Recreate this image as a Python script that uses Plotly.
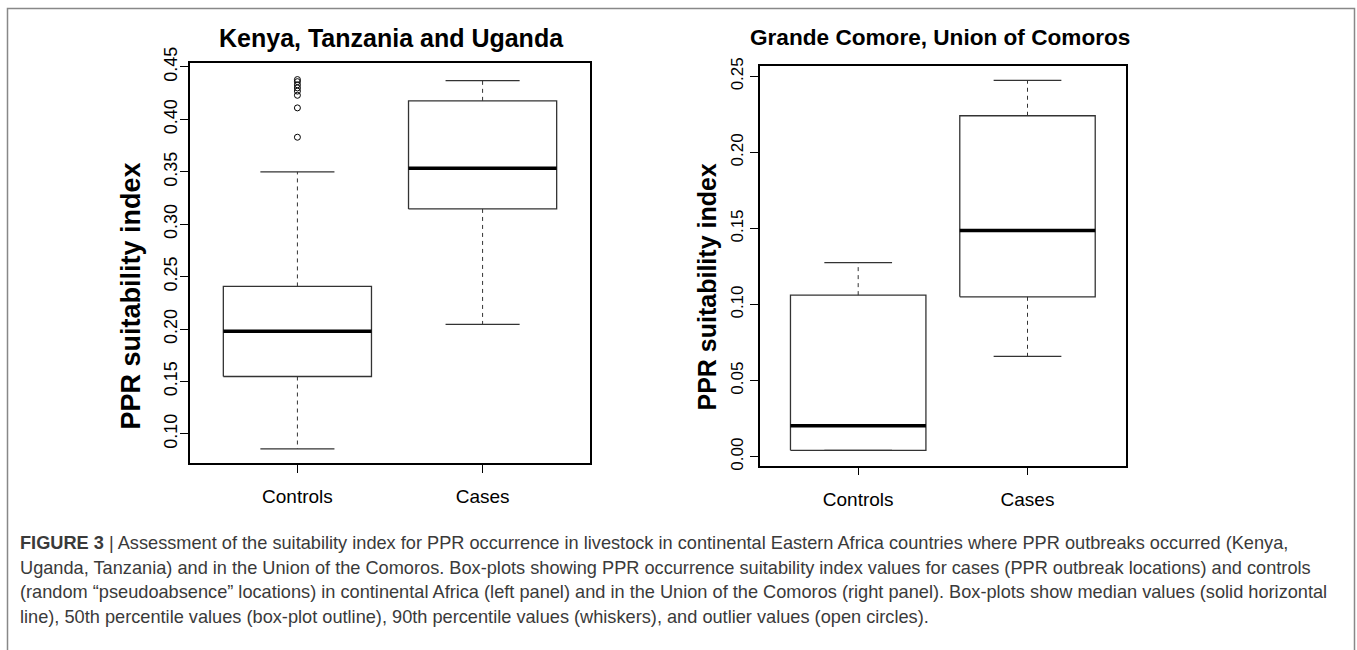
import plotly.graph_objects as go

# ---------------- data ----------------
categories = ["Controls", "Cases"]

# Left panel: Kenya, Tanzania and Uganda
left_lower = [0.0857, 0.2045]
left_q1 = [0.1548, 0.3146]
left_median = [0.1980, 0.3535]
left_q3 = [0.2407, 0.4177]
left_upper = [0.3500, 0.4370]
left_outliers_controls = [0.383, 0.411, 0.423, 0.427, 0.430, 0.433, 0.436, 0.438]
left_yticks = [0.10, 0.15, 0.20, 0.25, 0.30, 0.35, 0.40, 0.45]

# Right panel: Grande Comore, Union of Comoros
right_lower = [0.0042, 0.0660]
right_q1 = [0.0042, 0.1051]
right_median = [0.0204, 0.1487]
right_q3 = [0.1062, 0.2241]
right_upper = [0.1276, 0.2474]
right_yticks = [0.00, 0.05, 0.10, 0.15, 0.20, 0.25]

left_title = "Kenya, Tanzania and Uganda"
right_title = "Grande Comore, Union of Comoros"
y_label = "PPR suitability index"

caption_lines = [
    "<b>FIGURE 3</b> | Assessment of the suitability index for PPR occurrence in livestock in continental Eastern Africa countries where PPR outbreaks occurred (Kenya,",
    "Uganda, Tanzania) and in the Union of the Comoros. Box-plots showing PPR occurrence suitability index values for cases (PPR outbreak locations) and controls",
    "(random \u201cpseudoabsence\u201d locations) in continental Africa (left panel) and in the Union of the Comoros (right panel). Box-plots show median values (solid horizontal",
    "line), 50th percentile values (box-plot outline), 90th percentile values (whiskers), and outlier values (open circles).",
]

# ---------------- figure ----------------
W, H = 1357, 650
FONT = "Liberation Sans, Arial, sans-serif"
fig = go.Figure()

BOXW = 0.4   # half box width
CAPW = 0.2   # half cap width


def add_boxes(xa, ya, lower, q1, med, q3, upper):
    for i, c in enumerate(range(1, len(categories) + 1)):
        common = dict(xaxis=xa, yaxis=ya, mode="lines", showlegend=False, hoverinfo="skip")
        # whiskers (dashed)
        fig.add_trace(go.Scatter(x=[c, c, None, c, c], y=[q3[i], upper[i], None, q1[i], lower[i]],
                                 line=dict(color="#333", width=1, dash="4px,4px"), **common))
        # caps
        fig.add_trace(go.Scatter(x=[c - CAPW, c + CAPW, None, c - CAPW, c + CAPW],
                                 y=[upper[i], upper[i], None, lower[i], lower[i]],
                                 line=dict(color="#333", width=1.3), **common))
        # box
        fig.add_trace(go.Scatter(x=[c - BOXW, c + BOXW, c + BOXW, c - BOXW, c - BOXW],
                                 y=[q1[i], q1[i], q3[i], q3[i], q1[i]],
                                 line=dict(color="#333", width=1.3), **common))
        # median
        fig.add_trace(go.Scatter(x=[c - BOXW, c + BOXW], y=[med[i], med[i]],
                                 line=dict(color="black", width=3.5), **common))


add_boxes("x", "y", left_lower, left_q1, left_median, left_q3, left_upper)
fig.add_trace(go.Scatter(x=[1] * len(left_outliers_controls), y=left_outliers_controls,
                         mode="markers", xaxis="x", yaxis="y", showlegend=False, hoverinfo="skip",
                         marker=dict(symbol="circle-open", size=6, color="black", line=dict(width=1))))
add_boxes("x2", "y2", right_lower, right_q1, right_median, right_q3, right_upper)

axis_common = dict(showline=True, mirror=True, linecolor="black", linewidth=1.5,
                   showgrid=False, zeroline=False, ticks="outside", ticklen=8,
                   tickcolor="black", tickwidth=1, automargin=False)

fig.update_layout(
    width=W, height=H,
    margin=dict(l=0, r=0, t=0, b=0),
    paper_bgcolor="white", plot_bgcolor="white",
    font=dict(family=FONT, color="black"),
    xaxis=dict(domain=[190 / W, 590 / W], range=[0.42, 2.58], tickvals=[1, 2], ticktext=categories,
               tickfont=dict(size=19), anchor="y", ticklabelstandoff=7, **axis_common),
    yaxis=dict(domain=[1 - 463 / H, 1 - 63 / H], range=[0.0723, 0.4538], tickvals=left_yticks,
               tickformat=".2f", tickangle=-90, tickfont=dict(size=18), anchor="x",
               ticklabelstandoff=-4, **axis_common),
    xaxis2=dict(domain=[760 / W, 1125.7 / W], range=[0.42, 2.58], tickvals=[1, 2], ticktext=categories,
                tickfont=dict(size=19), anchor="y2", ticklabelstandoff=8, **axis_common),
    yaxis2=dict(domain=[1 - 465.7 / H, 1 - 65.7 / H], range=[-0.0059, 0.257], tickvals=right_yticks,
                tickformat=".2f", tickangle=-90, tickfont=dict(size=17), anchor="x2", **axis_common),
)

ann = []
ann.append(dict(text="<b>%s</b>" % left_title, x=391 / W, y=1 - 38 / H, xref="paper", yref="paper",
                showarrow=False, xanchor="center", yanchor="middle", font=dict(size=25, family=FONT)))
ann.append(dict(text="<b>%s</b>" % right_title, x=940 / W, y=1 - 38 / H, xref="paper", yref="paper",
                showarrow=False, xanchor="center", yanchor="middle", font=dict(size=22.6, family=FONT)))
ann.append(dict(text="<b>%s</b>" % y_label, x=130 / W, y=1 - 296.5 / H, xref="paper", yref="paper",
                showarrow=False, xanchor="center", yanchor="middle", textangle=-90,
                font=dict(size=27, family=FONT)))
ann.append(dict(text="<b>%s</b>" % y_label, x=706 / W, y=1 - 287.5 / H, xref="paper", yref="paper",
                showarrow=False, xanchor="center", yanchor="middle", textangle=-90,
                font=dict(size=25, family=FONT)))
for k, line in enumerate(caption_lines):
    ann.append(dict(text=line, x=18 / W, y=1 - (543 + 24.6 * k) / H, xref="paper", yref="paper",
                    showarrow=False, xanchor="left", yanchor="middle", align="left",
                    font=dict(size=18.2, family=FONT, color="#3a3a3a")))
fig.update_layout(annotations=ann)

# figure border
fig.add_shape(type="rect", xref="paper", yref="paper", x0=7.5 / W, x1=1354.5 / W, y0=-0.1, y1=1 - 8.5 / H,
              line=dict(color="#888", width=1.5), fillcolor="rgba(0,0,0,0)", layer="below")

fig.write_html("out.html", config={"displayModeBar": False},
               post_script="document.body.style.margin='0';document.body.style.overflow='hidden';")
